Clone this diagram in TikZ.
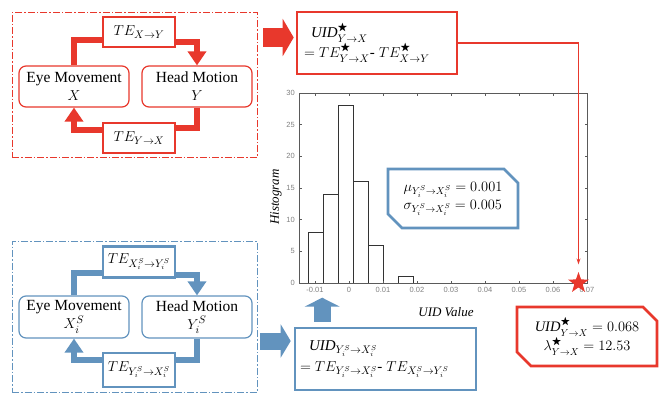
\documentclass[tikz,border=0pt]{standalone}
\usepackage{amsmath,amssymb}
\usepackage{fontspec}
\setmainfont{Liberation Serif}
\newfontfamily\axisfont{Liberation Sans}
\usetikzlibrary{positioning,arrows.meta,shapes.geometric,shapes.misc}

\definecolor{uidred}{RGB}{232,56,44}
\definecolor{uidblue}{RGB}{98,147,190}
\definecolor{axisgray}{RGB}{90,90,90}

\tikzset{
    statebox/.style={draw=#1, fill=white, rounded corners=7pt, line width=1.2pt,
        minimum width=110pt, minimum height=41pt, align=center, inner sep=1pt,
        font=\fontsize{15.5}{18}\selectfont},
    tebox/.style={draw=#1, fill=white, line width=2.6pt, minimum width=72pt,
        minimum height=30pt, inner sep=1pt, font=\fontsize{15}{17}\selectfont},
    groupbox/.style={draw=#1, line width=0.9pt, minimum width=245pt,
        dash pattern=on 7pt off 2pt on 1.5pt off 2pt},
    flow/.style={draw=#1, line width=6.5pt},
    flowtip/.style={-{Triangle[width=18pt,length=14pt]}},
    blockarrow/.style={draw=#1, line width=18pt, -{Triangle[width=36pt,length=11pt]}},
    uidbox/.style={draw=#1, fill=white, line width=2.6pt, align=left, inner sep=0pt,
        font=\fontsize{15}{18}\selectfont},
    cutbox/.style={draw=#1, fill=white, line width=2.6pt, chamfered rectangle,
        chamfered rectangle corners={north east,south west},
        chamfered rectangle xsep=7pt, chamfered rectangle ysep=7pt,
        font=\fontsize{14.5}{18}\selectfont},
    histbar/.style={draw=black!80, line width=0.9pt, fill=white},
    ticklabel/.style={text=gray, font=\axisfont\fontsize{7.5}{9}\selectfont, inner sep=1pt},
    axislabel/.style={font=\itshape\fontsize{13}{15}\selectfont}
}

\begin{document}
\begin{tikzpicture}[x=1pt, y=-1pt]
    \useasboundingbox (0,0) rectangle (665,402);

    % measured loop
    \node[groupbox=uidred, minimum height=145pt] (redgroup) at (134.5,84.5) {};
    \node[statebox=uidred] (eyeR) at (74,86.5) {Eye Movement\\$X$};
    \node[statebox=uidred] (headR) at (197,86.5) {Head Motion\\$Y$};
    \node[tebox=uidred] (texy) at (139,32) {$TE_{X\to Y}$};
    \node[tebox=uidred] (teyx) at (139,138) {$TE_{Y\to X}$};

    \draw[flow=uidred] (eyeR.north) |- ([yshift=-8pt]texy.west);
    \draw[flow=uidred, flowtip] ([yshift=-10pt]texy.east) -| (headR.north);
    \draw[flow=uidred] (headR.south) |- ([yshift=10pt]teyx.east);
    \draw[flow=uidred, flowtip] ([yshift=8pt]teyx.west) -| (eyeR.south);

    % surrogate loop
    \node[groupbox=uidblue, minimum height=151pt] (bluegroup) at (134.5,316.5) {};
    \node[statebox=uidblue, minimum height=42pt] (eyeB) at (74,317) {Eye Movement\\$X_i^S$};
    \node[statebox=uidblue, minimum height=42pt] (headB) at (197,317) {Head Motion\\$Y_i^S$};
    \node[tebox=uidblue, minimum height=31pt] (txyB) at (139,262) {$TE_{X_i^S\to Y_i^S}$};
    \node[tebox=uidblue, minimum height=34pt] (tyxB) at (139,370) {$TE_{Y_i^S\to X_i^S}$};

    \draw[flow=uidblue] (eyeB.north) |- ([yshift=-11pt]txyB.west);
    \draw[flow=uidblue, flowtip] ([yshift=-13pt]txyB.east) -| (headB.north);
    \draw[flow=uidblue] (headB.south) |- ([yshift=10pt]tyxB.east);
    \draw[flow=uidblue, flowtip] ([yshift=10pt]tyxB.west) -| (eyeB.south);

    % difference boxes
    \node[uidbox=uidred, minimum width=160pt, minimum height=62pt, text width=146pt] (uidR) at (377,43)
        {\hspace{7pt}$\mathit{UID}^{\bigstar}_{Y\to X}$\\$=TE^{\bigstar}_{Y\to X}\text{-}\;TE^{\bigstar}_{X\to Y}$};
    \node[uidbox=uidblue, minimum width=181pt, minimum height=62pt, text width=171pt] (uidB) at (385.5,359)
        {\hspace{9pt}$\mathit{UID}_{Y_i^S\to X_i^S}$\\[3pt]$=TE_{Y_i^S\to X_i^S}\text{-}\;TE_{X_i^S\to Y_i^S}$};

    \coordinate (redtip) at ([xshift=-2pt,yshift=5.5pt]uidR.west);
    \draw[blockarrow=uidred, line width=19pt, -{Triangle[width=37pt,length=11pt]}, shorten <=6pt]
        (redgroup.east |- redtip) -- (redtip);
    \coordinate (bluetip) at ([xshift=-3pt,yshift=18pt]uidB.west);
    \draw[blockarrow=uidblue, line width=17pt, -{Triangle[width=33pt,length=10pt]}, shorten <=3pt]
        (bluegroup.east |- bluetip) -- (bluetip);
    \coordinate (uptip) at ([xshift=28.5pt,yshift=29pt]uidB.north west);
    \draw[blockarrow=uidblue, line width=17pt, -{Triangle[width=35pt,length=9pt]}, shorten <=5pt]
        (uidB.north west -| uptip) -- (uptip);

    % histogram of surrogate UID values
    \begin{scope}[shift={(349,283)}, x=34pt, y=6.333pt]
        \foreach \l/\h in {-1.18/8, -0.74/14, -0.30/28, 0.14/16, 0.58/6, 1.46/1}
            \draw[histbar] (\l,0) rectangle ++(0.44,\h);
        \draw[axisgray, line width=1pt] (-1.47,0) rectangle (7,30);
        \foreach \t/\v in {-1/-0.01, 0/0, 1/0.01, 2/0.02, 3/0.03, 4/0.04, 5/0.05, 6/0.06, 7/0.07} {
            \draw[axisgray, line width=0.6pt] (\t,0) -- ++(0,2.5pt) (\t,30) -- ++(0,-2.5pt);
            \node[ticklabel, below=3pt] at (\t,0) {\v};
        }
        \foreach \c in {0,5,...,30} {
            \draw[axisgray, line width=0.6pt] (-1.47,\c) -- ++(2.5pt,0) (7,\c) -- ++(-2.5pt,0);
            \node[ticklabel, left=3pt] at (-1.47,\c) {\c};
        }
        \node[star, star points=5, star point ratio=2.5, fill=uidred, inner sep=0pt,
            minimum size=22pt] (peak) at (6.75,0) {};
    \end{scope}
    \node[axislabel, rotate=90] (ylab) at (276,197) {Histogram};
    \node[axislabel] (xlab) at (446,312) {UID Value};

    \draw[uidred, line width=1.2pt, -{Stealth[length=6pt,width=4pt]}, shorten >=7pt]
        (uidR.east) -| (peak.north);

    \node[cutbox=uidblue, minimum width=130pt, minimum height=59pt, align=left] (stats) at (453,198.5)
        {$\mu_{Y_i^S\to X_i^S}=0.001$\\$\sigma_{Y_i^S\to X_i^S}=0.005$};
    \node[cutbox=uidred, minimum width=140pt, minimum height=59pt, align=center] (result) at (587,336.5)
        {$\mathit{UID}^{\bigstar}_{Y\to X}=0.068$\\$\lambda^{\bigstar}_{Y\to X}=12.53$};
\end{tikzpicture}
\end{document}
